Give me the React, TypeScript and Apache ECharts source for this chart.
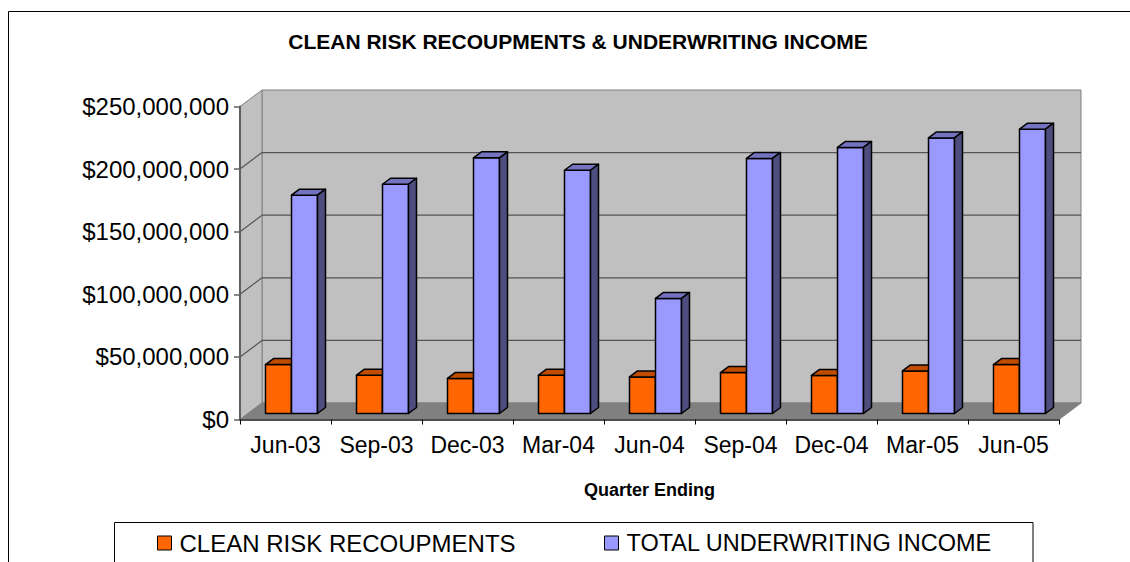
import React, { useEffect, useRef } from "react";
import * as echarts from "echarts";

const categories = ["Jun-03", "Sep-03", "Dec-03", "Mar-04", "Jun-04", "Sep-04", "Dec-04", "Mar-05", "Jun-05"];
const cleanRisk = [39.1e6, 30.6e6, 28.0e6, 30.6e6, 29.2e6, 32.7e6, 30.4e6, 34.0e6, 39.1e6];
const totalUW = [174.4e6, 183.1e6, 204.2e6, 194.3e6, 91.9e6, 203.7e6, 212.5e6, 220.1e6, 227.1e6];
const yTicks = [0, 50e6, 100e6, 150e6, 200e6, 250e6];
const seriesNames = ["CLEAN RISK RECOUPMENTS", "TOTAL UNDERWRITING INCOME"];

const FONT = "'Liberation Sans', Arial, sans-serif";
const WDX = 22;
const WDY = -16.5;
const BAR_W = 26;
const BAR_SX = 6;
const BAR_SY = -6;
const BDX = 8;
const BDY = -6;

function barRenderer(side: "left" | "right", front: string, topC: string, sideC: string) {
  return (params: any, api: any) => {
    const idx = api.value(0);
    const v = api.value(1);
    const base = api.coord([idx, 0]);
    const top = api.coord([idx, v]);
    const cx = base[0] + BAR_SX;
    const x0 = side === "left" ? cx - BAR_W : cx;
    const x1 = x0 + BAR_W;
    const yb = base[1] + BAR_SY;
    const yt = top[1] + BAR_SY;
    const st = { stroke: "#000", lineWidth: 1.5, lineJoin: "round" };
    return {
      type: "group",
      children: [
        { type: "polygon", shape: { points: [[x0, yb], [x1, yb], [x1, yt], [x0, yt]] }, style: { fill: front, ...st } },
        { type: "polygon", shape: { points: [[x0, yt], [x1, yt], [x1 + BDX, yt + BDY], [x0 + BDX, yt + BDY]] }, style: { fill: topC, ...st } },
        { type: "polygon", shape: { points: [[x1, yb], [x1 + BDX, yb + BDY], [x1 + BDX, yt + BDY], [x1, yt]] }, style: { fill: sideC, ...st } },
      ],
    };
  };
}

export default function App() {
  const ref = useRef<HTMLDivElement>(null);
  useEffect(() => {
    if (!ref.current) return;
    const chart = echarts.init(ref.current, undefined, { renderer: "svg" });
    const n = categories.length;
    const legendText = { fontFamily: FONT, fontSize: 24, color: "#000", padding: [0, 0, 0, 3] };
    const option: any = {
      animation: false,
      backgroundColor: "#fff",
      title: {
        text: "CLEAN RISK RECOUPMENTS & UNDERWRITING INCOME",
        left: 578,
        top: 31,
        padding: 0,
        textAlign: "center",
        textStyle: { fontFamily: FONT, fontSize: 21, fontWeight: "bold", color: "#000" },
      },
      legend: [
        {
          data: [{ name: seriesNames[0], itemStyle: { color: "#FF6600", borderColor: "#000", borderWidth: 1 } }],
          left: 157,
          top: 531,
          padding: 0,
          icon: "rect",
          itemWidth: 14,
          itemHeight: 14,
          selectedMode: false,
          textStyle: legendText,
        },
        {
          data: [{ name: seriesNames[1], itemStyle: { color: "#9999FF", borderColor: "#000", borderWidth: 1 } }],
          left: 604,
          top: 531,
          padding: 0,
          icon: "rect",
          itemWidth: 14,
          itemHeight: 14,
          selectedMode: false,
          textStyle: { ...legendText, fontSize: 23.5 },
        },
      ],
      grid: { left: 240, right: 71, top: 106.5, bottom: 142.5, containLabel: false },
      xAxis: {
        type: "category",
        data: categories,
        boundaryGap: true,
        name: "Quarter Ending",
        nameLocation: "middle",
        nameGap: 61,
        nameTextStyle: { fontFamily: FONT, fontSize: 18, fontWeight: "bold", color: "#000" },
        axisLine: { show: true, lineStyle: { color: "#4d4d4d", width: 2 } },
        axisTick: { show: true, length: 5, interval: 0, lineStyle: { color: "#000", width: 1 } },
        axisLabel: { fontFamily: FONT, fontSize: 23, color: "#000", margin: 14, interval: 0 },
        splitLine: { show: false },
      },
      yAxis: {
        type: "value",
        min: 0,
        max: 250e6,
        interval: 50e6,
        axisLine: { show: true, lineStyle: { color: "#606060", width: 2 } },
        axisTick: { show: true, length: 6, lineStyle: { color: "#606060", width: 1.5 } },
        axisLabel: {
          fontFamily: FONT,
          fontSize: 24,
          color: "#000",
          margin: 11,
          formatter: (v: number) => "$" + v.toLocaleString("en-US"),
        },
        splitLine: { show: false },
      },
      graphic: [
        { type: "rect", shape: { x: 8.5, y: 11.5, width: 1300, height: 700 }, style: { fill: "none", stroke: "#000", lineWidth: 1 }, silent: true, z: -10 },
        { type: "rect", shape: { x: 114.5, y: 522.5, width: 918.5, height: 100 }, style: { fill: "#fff", stroke: "#000", lineWidth: 1 }, silent: true, z: -5 },
      ],
      series: [
        {
          type: "custom",
          name: "walls",
          z: -1,
          silent: true,
          data: [[0, 0]],
          renderItem: (params: any, api: any) => {
            const bw = api.size([1, 0])[0];
            const p0 = api.coord([0, 0]);
            const pT = api.coord([0, 250e6]);
            const pR = api.coord([n - 1, 0]);
            const xl = p0[0] - bw / 2;
            const xr = pR[0] + bw / 2;
            const yb = p0[1];
            const yt = pT[1];
            const border = { stroke: "#808080", lineWidth: 1 };
            return {
              type: "group",
              children: [
                { type: "polygon", shape: { points: [[xl + WDX, yb + WDY], [xr + WDX, yb + WDY], [xr + WDX, yt + WDY], [xl + WDX, yt + WDY]] }, style: { fill: "#C0C0C0", ...border } },
                { type: "polygon", shape: { points: [[xl, yb], [xl + WDX, yb + WDY], [xl + WDX, yt + WDY], [xl, yt]] }, style: { fill: "#C0C0C0", ...border } },
                { type: "polygon", shape: { points: [[xl, yb], [xr, yb], [xr + WDX, yb + WDY], [xl + WDX, yb + WDY]] }, style: { fill: "#808080", ...border } },
              ],
            };
          },
        },
        {
          type: "custom",
          name: "grid",
          z: -1,
          silent: true,
          data: yTicks.filter((t) => t > 0 && t < 250e6).map((t) => [0, t]),
          renderItem: (params: any, api: any) => {
            const bw = api.size([1, 0])[0];
            const v = api.value(1);
            const p = api.coord([0, v]);
            const pR = api.coord([n - 1, v]);
            const xl = p[0] - bw / 2;
            const xr = pR[0] + bw / 2;
            const y = p[1];
            const st = { stroke: "#555", lineWidth: 1.2 };
            return {
              type: "group",
              children: [
                { type: "line", shape: { x1: xl, y1: y, x2: xl + WDX, y2: y + WDY }, style: st },
                { type: "line", shape: { x1: xl + WDX, y1: y + WDY, x2: xr + WDX, y2: y + WDY }, style: st },
              ],
            };
          },
        },
        {
          type: "custom",
          name: seriesNames[0],
          itemStyle: { color: "#FF6600" },
          data: cleanRisk.map((v, i) => [i, v]),
          encode: { x: 0, y: 1 },
          renderItem: barRenderer("left", "#FF6600", "#C04C00", "#803300"),
        },
        {
          type: "custom",
          name: seriesNames[1],
          itemStyle: { color: "#9999FF" },
          data: totalUW.map((v, i) => [i, v]),
          encode: { x: 0, y: 1 },
          renderItem: barRenderer("right", "#9999FF", "#7373C0", "#4D4D80"),
        },
      ],
    };
    chart.setOption(option);
    return () => chart.dispose();
  }, []);
  return <div ref={ref} style={{ position: "fixed", left: 0, top: 0, width: 1130, height: 562 }} />;
}
